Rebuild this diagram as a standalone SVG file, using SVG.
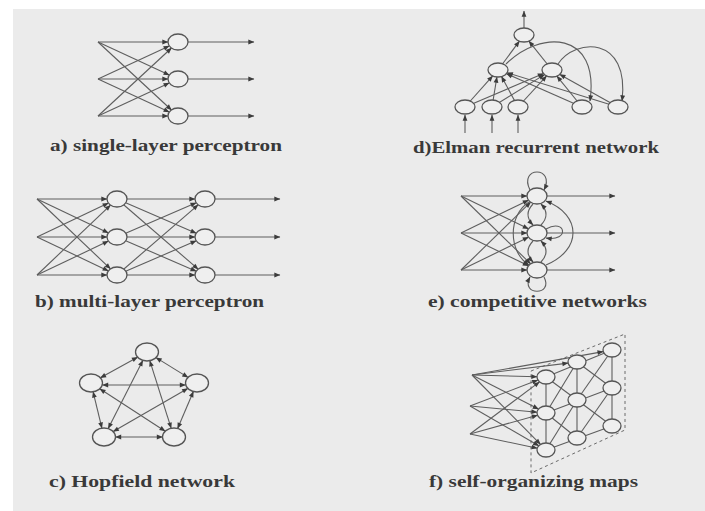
<svg xmlns="http://www.w3.org/2000/svg" width="705" height="511" viewBox="0 0 705 511">
  <defs>
    <marker id="ah" viewBox="0 0 10 10" refX="9.5" refY="5" markerWidth="7" markerHeight="6" markerUnits="userSpaceOnUse" orient="auto-start-reverse">
      <path d="M0,1 L10,5 L0,9 z" fill="#3c3c3c"/>
    </marker>
    <style>
      .ln { stroke: #5e5e5e; stroke-width: 1.1; fill: none; }
      .ar { stroke: #5e5e5e; stroke-width: 1.1; fill: none; marker-end: url(#ah); }
      .bi { stroke: #5e5e5e; stroke-width: 1.1; fill: none; marker-start: url(#ah); marker-end: url(#ah); }
      .dash { stroke: #6a6a6a; stroke-width: 1; fill: none; stroke-dasharray: 3 3; }
      .nd { fill: #efefef; stroke: #555555; stroke-width: 1.3; }
      .lbl { font-family: "Liberation Serif", "Times New Roman", serif; font-weight: bold; font-size: 17.5px; fill: #393939; }
    </style>
  </defs>

  <!-- page -->
  <rect x="0" y="0" width="705" height="511" fill="#ffffff"/>
  <rect x="13" y="9" width="692" height="502" fill="#ebebeb"/>

  <!-- ===== a) single-layer perceptron ===== -->
  <g id="connectors-a">
    <line class="ar" x1="98" y1="42" x2="168" y2="42"/>
    <line class="ar" x1="98" y1="42" x2="169.3" y2="75"/>
    <line class="ar" x1="98" y1="42" x2="171.5" y2="110"/>
    <line class="ar" x1="98" y1="79" x2="169.3" y2="46"/>
    <line class="ar" x1="98" y1="79" x2="168" y2="79"/>
    <line class="ar" x1="98" y1="79" x2="169.3" y2="112"/>
    <line class="ar" x1="98" y1="116" x2="171.5" y2="48"/>
    <line class="ar" x1="98" y1="116" x2="169.3" y2="83"/>
    <line class="ar" x1="98" y1="116" x2="168" y2="116"/>
    <line class="ar" x1="188" y1="42" x2="254" y2="42"/>
    <line class="ar" x1="188" y1="79" x2="254" y2="79"/>
    <line class="ar" x1="188" y1="116" x2="254" y2="116"/>
  </g>
  <g id="a-out1"><ellipse class="nd" cx="178" cy="42" rx="10" ry="8"/></g>
  <g id="a-out2"><ellipse class="nd" cx="178" cy="79" rx="10" ry="8"/></g>
  <g id="a-out3"><ellipse class="nd" cx="178" cy="116" rx="10" ry="8"/></g>
  <text class="lbl" x="50" y="151" textLength="232" lengthAdjust="spacingAndGlyphs">a) single-layer perceptron</text>

  <!-- ===== b) multi-layer perceptron ===== -->
  <g id="connectors-b">
    <line class="ar" x1="37" y1="199" x2="107" y2="199"/>
    <line class="ar" x1="37" y1="199" x2="108.4" y2="232.9"/>
    <line class="ar" x1="37" y1="199" x2="110.5" y2="268.9"/>
    <line class="ar" x1="37" y1="237" x2="108.4" y2="203.1"/>
    <line class="ar" x1="37" y1="237" x2="107" y2="237"/>
    <line class="ar" x1="37" y1="237" x2="108.4" y2="270.9"/>
    <line class="ar" x1="37" y1="275" x2="110.5" y2="205.1"/>
    <line class="ar" x1="37" y1="275" x2="108.4" y2="241.1"/>
    <line class="ar" x1="37" y1="275" x2="107" y2="275"/>
    <line class="ar" x1="117" y1="199" x2="195" y2="199"/>
    <line class="ar" x1="117" y1="199" x2="196.2" y2="233.2"/>
    <line class="ar" x1="117" y1="199" x2="198.2" y2="269.2"/>
    <line class="ar" x1="117" y1="237" x2="196.2" y2="202.8"/>
    <line class="ar" x1="117" y1="237" x2="195" y2="237"/>
    <line class="ar" x1="117" y1="237" x2="196.2" y2="271.2"/>
    <line class="ar" x1="117" y1="275" x2="198.2" y2="204.8"/>
    <line class="ar" x1="117" y1="275" x2="196.2" y2="240.8"/>
    <line class="ar" x1="117" y1="275" x2="195" y2="275"/>
    <line class="ar" x1="215" y1="199" x2="280" y2="199"/>
    <line class="ar" x1="215" y1="237" x2="280" y2="237"/>
    <line class="ar" x1="215" y1="275" x2="280" y2="275"/>
  </g>
  <g id="b-hid1"><ellipse class="nd" cx="117" cy="199" rx="10" ry="8"/></g>
  <g id="b-hid2"><ellipse class="nd" cx="117" cy="237" rx="10" ry="8"/></g>
  <g id="b-hid3"><ellipse class="nd" cx="117" cy="275" rx="10" ry="8"/></g>
  <g id="b-out1"><ellipse class="nd" cx="205" cy="199" rx="10" ry="8"/></g>
  <g id="b-out2"><ellipse class="nd" cx="205" cy="237" rx="10" ry="8"/></g>
  <g id="b-out3"><ellipse class="nd" cx="205" cy="275" rx="10" ry="8"/></g>
  <text class="lbl" x="35" y="307" textLength="229" lengthAdjust="spacingAndGlyphs">b) multi-layer perceptron</text>

  <!-- ===== c) Hopfield network ===== -->
  <g id="connectors-c">
    <line class="bi" x1="137.6" y1="357.2" x2="100.4" y2="377.8"/>
    <line class="bi" x1="156" y1="357.6" x2="188" y2="377.4"/>
    <line class="bi" x1="142.8" y1="360.4" x2="108.2" y2="428.6"/>
    <line class="bi" x1="149.8" y1="360.7" x2="171.2" y2="428.3"/>
    <line class="bi" x1="102.5" y1="385" x2="185.5" y2="385"/>
    <line class="bi" x1="93.1" y1="391.9" x2="101.9" y2="428.1"/>
    <line class="bi" x1="99.8" y1="388.8" x2="165.2" y2="431.2"/>
    <line class="bi" x1="187.8" y1="388.4" x2="113.2" y2="431.6"/>
    <line class="bi" x1="193.4" y1="391.5" x2="177.6" y2="428.5"/>
    <line class="bi" x1="115.5" y1="437" x2="162.5" y2="437"/>
  </g>
  <g id="c-top"><ellipse class="nd" cx="147" cy="352" rx="11.5" ry="9"/></g>
  <g id="c-left"><ellipse class="nd" cx="91" cy="383" rx="11.5" ry="9"/></g>
  <g id="c-right"><ellipse class="nd" cx="197" cy="383" rx="11.5" ry="9"/></g>
  <g id="c-botleft"><ellipse class="nd" cx="104" cy="437" rx="11.5" ry="9"/></g>
  <g id="c-botright"><ellipse class="nd" cx="174" cy="437" rx="11.5" ry="9"/></g>
  <text class="lbl" x="49" y="487" textLength="186" lengthAdjust="spacingAndGlyphs">c) Hopfield network</text>

  <!-- ===== d) Elman recurrent network ===== -->
  <g id="connectors-d">
    <line class="ar" x1="524" y1="28" x2="524" y2="11"/>
    <line class="ar" x1="498" y1="70" x2="519.4" y2="41.2"/>
    <line class="ar" x1="552" y1="70" x2="528.9" y2="41.1"/>
    <line class="ar" x1="465" y1="107" x2="492.7" y2="75.9"/>
    <line class="ar" x1="492" y1="107" x2="496.9" y2="77"/>
    <line class="ar" x1="518" y1="107" x2="501.5" y2="76.5"/>
    <line class="ar" x1="465" y1="107" x2="543.5" y2="73.6"/>
    <line class="ar" x1="492" y1="107" x2="544.5" y2="74.6"/>
    <line class="ar" x1="518" y1="107" x2="546.6" y2="75.9"/>
    <line class="ar" x1="582" y1="107" x2="506.5" y2="73.7"/>
    <line class="ar" x1="618" y1="107" x2="507.2" y2="72.8"/>
    <line class="ar" x1="582" y1="107" x2="556.9" y2="76.1"/>
    <line class="ar" x1="618" y1="107" x2="559.8" y2="74.4"/>
    <line class="ar" x1="465" y1="133" x2="465" y2="115"/>
    <line class="ar" x1="492" y1="133" x2="492" y2="115"/>
    <line class="ar" x1="518" y1="133" x2="518" y2="115"/>
    <path class="ar" d="M506,64 C540,30 600,30 590,101"/>
    <path class="ar" d="M558,64 C575,38 630,35 622,101"/>
  </g>
  <g id="d-out"><ellipse class="nd" cx="524" cy="35" rx="10" ry="7"/></g>
  <g id="d-hid1"><ellipse class="nd" cx="498" cy="70" rx="10" ry="7"/></g>
  <g id="d-hid2"><ellipse class="nd" cx="552" cy="70" rx="10" ry="7"/></g>
  <g id="d-in1"><ellipse class="nd" cx="465" cy="107" rx="10" ry="7"/></g>
  <g id="d-in2"><ellipse class="nd" cx="492" cy="107" rx="10" ry="7"/></g>
  <g id="d-in3"><ellipse class="nd" cx="518" cy="107" rx="10" ry="7"/></g>
  <g id="d-ctx1"><ellipse class="nd" cx="582" cy="107" rx="10" ry="7"/></g>
  <g id="d-ctx2"><ellipse class="nd" cx="618" cy="107" rx="10" ry="7"/></g>
  <text class="lbl" x="413" y="153" textLength="246" lengthAdjust="spacingAndGlyphs">d)Elman recurrent network</text>

  <!-- ===== e) competitive networks ===== -->
  <g id="connectors-e">
    <line class="ar" x1="461" y1="196" x2="527" y2="196"/>
    <line class="ar" x1="461" y1="196" x2="528.5" y2="228.8"/>
    <line class="ar" x1="461" y1="196" x2="530.6" y2="263.8"/>
    <line class="ar" x1="461" y1="233" x2="528.5" y2="200.2"/>
    <line class="ar" x1="461" y1="233" x2="527" y2="233"/>
    <line class="ar" x1="461" y1="233" x2="528.5" y2="265.8"/>
    <line class="ar" x1="461" y1="270" x2="530.6" y2="202.2"/>
    <line class="ar" x1="461" y1="270" x2="528.5" y2="237.2"/>
    <line class="ar" x1="461" y1="270" x2="527" y2="270"/>
    <line class="ar" x1="547" y1="196" x2="615" y2="196"/>
    <line class="ar" x1="547" y1="233" x2="615" y2="233"/>
    <line class="ar" x1="547" y1="270" x2="615" y2="270"/>
    <!-- lateral links -->
    <path class="ar" d="M533,204 Q523,214.5 533,225"/>
    <path class="ar" d="M541,225 Q551,214.5 541,204"/>
    <path class="ar" d="M533,241 Q523,251.5 533,262"/>
    <path class="ar" d="M541,262 Q551,251.5 541,241"/>
    <path class="ar" d="M529,202 C508,215 508,252 529,265"/>
    <path class="ar" d="M546,265 C582,250 582,215 546,201"/>
    <!-- self loops -->
    <path class="ar" d="M530,190 C518,166 556,166 544,190"/>
    <path class="ar" d="M546,229 C566,218 570,242 546,238"/>
    <path class="ar" d="M544,277 C554,296 520,296 530,277"/>
  </g>
  <g id="e-n1"><ellipse class="nd" cx="537" cy="196" rx="10" ry="8"/></g>
  <g id="e-n2"><ellipse class="nd" cx="537" cy="233" rx="10" ry="8"/></g>
  <g id="e-n3"><ellipse class="nd" cx="537" cy="270" rx="10" ry="8"/></g>
  <text class="lbl" x="428" y="307" textLength="219" lengthAdjust="spacingAndGlyphs">e) competitive networks</text>

  <!-- ===== f) self-organizing maps ===== -->
  <g id="connectors-f">
    <polygon class="dash" points="531,371 625,334 625,430 531,473"/>
    <!-- map lattice -->
    <line class="ln" x1="546" y1="377" x2="546" y2="450"/>
    <line class="ln" x1="577" y1="362" x2="577" y2="438"/>
    <line class="ln" x1="612" y1="350" x2="612" y2="426"/>
    <line class="ln" x1="546" y1="377" x2="612" y2="350"/>
    <line class="ln" x1="546" y1="413" x2="612" y2="388"/>
    <line class="ln" x1="546" y1="450" x2="612" y2="426"/>
    <line class="ln" x1="546" y1="377" x2="577" y2="400"/>
    <line class="ln" x1="546" y1="413" x2="577" y2="362"/>
    <line class="ln" x1="546" y1="413" x2="577" y2="438"/>
    <line class="ln" x1="546" y1="450" x2="577" y2="400"/>
    <line class="ln" x1="577" y1="362" x2="612" y2="388"/>
    <line class="ln" x1="577" y1="400" x2="612" y2="350"/>
    <line class="ln" x1="577" y1="400" x2="612" y2="426"/>
    <line class="ln" x1="577" y1="438" x2="612" y2="388"/>
    <!-- inputs -->
    <line class="ar" x1="472" y1="375" x2="537" y2="376.8"/>
    <line class="ar" x1="472" y1="375" x2="538.5" y2="409.1"/>
    <line class="ar" x1="472" y1="375" x2="540.5" y2="444.4"/>
    <line class="ar" x1="472" y1="375" x2="568.1" y2="363.1"/>
    <line class="ar" x1="472" y1="375" x2="603.2" y2="351.6"/>
    <line class="ar" x1="470" y1="406" x2="537.9" y2="380.1"/>
    <line class="ar" x1="470" y1="406" x2="537.1" y2="412.2"/>
    <line class="ar" x1="470" y1="406" x2="538.8" y2="445.8"/>
    <line class="ar" x1="470" y1="434" x2="539.5" y2="381.9"/>
    <line class="ar" x1="470" y1="434" x2="537.5" y2="415.3"/>
    <line class="ar" x1="470" y1="434" x2="537.3" y2="448.2"/>
  </g>
  <g id="f-n11"><ellipse class="nd" cx="546" cy="377" rx="9" ry="7"/></g>
  <g id="f-n12"><ellipse class="nd" cx="546" cy="413" rx="9" ry="7"/></g>
  <g id="f-n13"><ellipse class="nd" cx="546" cy="450" rx="9" ry="7"/></g>
  <g id="f-n21"><ellipse class="nd" cx="577" cy="362" rx="9" ry="7"/></g>
  <g id="f-n22"><ellipse class="nd" cx="577" cy="400" rx="9" ry="7"/></g>
  <g id="f-n23"><ellipse class="nd" cx="577" cy="438" rx="9" ry="7"/></g>
  <g id="f-n31"><ellipse class="nd" cx="612" cy="350" rx="9" ry="7"/></g>
  <g id="f-n32"><ellipse class="nd" cx="612" cy="388" rx="9" ry="7"/></g>
  <g id="f-n33"><ellipse class="nd" cx="612" cy="426" rx="9" ry="7"/></g>
  <text class="lbl" x="429" y="487" textLength="209" lengthAdjust="spacingAndGlyphs">f) self-organizing maps</text>
</svg>
